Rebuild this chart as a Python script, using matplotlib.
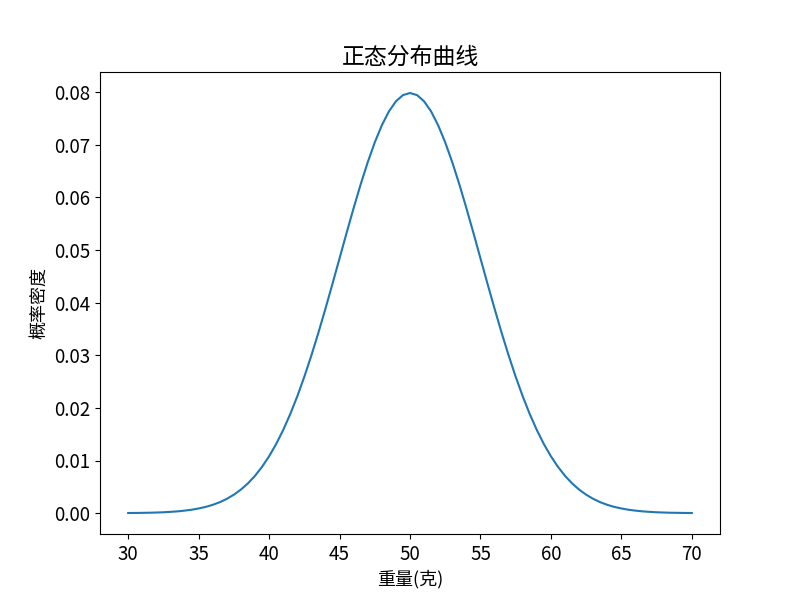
import matplotlib
matplotlib.use("Agg")
import matplotlib.pyplot as plt

plt.rcParams["font.family"] = ["Noto Sans CJK SC", "DejaVu Sans"]
plt.rcParams["axes.unicode_minus"] = False

# weight (g) in half-gram steps and density values
weight = [30 + 0.5 * i for i in range(81)]
density = [
    0.00003, 0.00004, 0.00006, 0.00008, 0.00012, 0.00017, 0.00025, 0.00034,
    0.00048, 0.00065, 0.00089, 0.00119, 0.00158, 0.00208, 0.00272, 0.00351,
    0.00448, 0.00566, 0.00709, 0.00880, 0.01080, 0.01312, 0.01579, 0.01881,
    0.02218, 0.02590, 0.02995, 0.03427, 0.03884, 0.04357, 0.04839, 0.05322,
    0.05794, 0.06245, 0.06664, 0.07041, 0.07365, 0.07628, 0.07821, 0.07939,
    0.07979,
    0.07939, 0.07821, 0.07628, 0.07365, 0.07041, 0.06664, 0.06245, 0.05794,
    0.05322, 0.04839, 0.04357, 0.03884, 0.03427, 0.02995, 0.02590, 0.02218,
    0.01881, 0.01579, 0.01312, 0.01080, 0.00880, 0.00709, 0.00566, 0.00448,
    0.00351, 0.00272, 0.00208, 0.00158, 0.00119, 0.00089, 0.00065, 0.00048,
    0.00034, 0.00025, 0.00017, 0.00012, 0.00008, 0.00006, 0.00004, 0.00003,
]
x_ticks = [30, 35, 40, 45, 50, 55, 60, 65, 70]
y_ticks = [0.00, 0.01, 0.02, 0.03, 0.04, 0.05, 0.06, 0.07, 0.08]

fig, ax = plt.subplots(figsize=(8, 6), dpi=100)
ax.plot(weight, density, color="#1f77b4", linewidth=1.5)

ax.set_xticks(x_ticks)
ax.set_yticks(y_ticks)
ax.set_yticklabels([f"{v:.2f}" for v in y_ticks])
ax.tick_params(labelsize=13.5)

ax.set_title("正态分布曲线", fontsize=16.5)
ax.set_xlabel("重量(克)", fontsize=13)
ax.set_ylabel("概率密度", fontsize=13)

fig.savefig("out.png", dpi=100)
